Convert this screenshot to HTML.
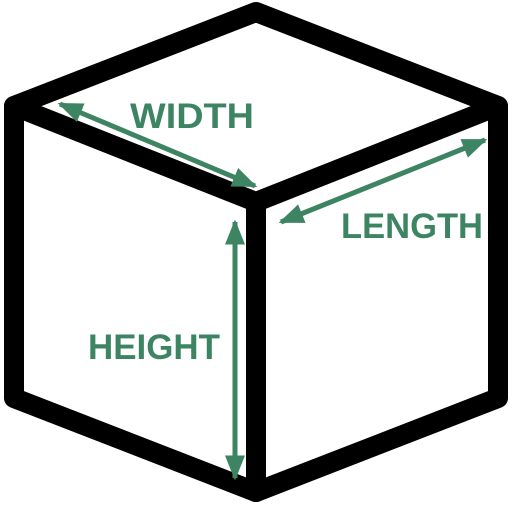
<!DOCTYPE html>
<html>
<head>
<meta charset="utf-8">
<style>
html,body{margin:0;padding:0;background:#fff;}
svg{display:block;}
text{font-family:"Liberation Sans",sans-serif;font-weight:bold;fill:#3d8462;}
</style>
</head>
<body>
<svg width="512" height="512" viewBox="0 0 512 512">
  <defs>
    <marker id="ah" markerWidth="5" markerHeight="5" refX="4.5" refY="2.5" orient="auto-start-reverse" markerUnits="strokeWidth">
      <path d="M0,0.5 L5,2.5 L0,4.5 Z" fill="#3d8462"/>
    </marker>
  </defs>
  <g fill="none" stroke="#000" stroke-width="20" stroke-linejoin="round" stroke-linecap="round">
    <path d="M256,12 L498,106 L498,398 L256,492 L14,398 L14,106 Z"/>
    <path d="M14,106 L256,202 L498,106 M256,202 L256,492"/>
  </g>
  <g stroke="#3d8462" stroke-width="5" fill="none">
    <line x1="60" y1="104" x2="255" y2="186" marker-start="url(#ah)" marker-end="url(#ah)"/>
    <line x1="281" y1="222" x2="485" y2="140" marker-start="url(#ah)" marker-end="url(#ah)"/>
    <line x1="235" y1="222" x2="235" y2="478" marker-start="url(#ah)" marker-end="url(#ah)"/>
  </g>
  <text x="130" y="128" font-size="35" textLength="124" lengthAdjust="spacingAndGlyphs">WIDTH</text>
  <text x="341" y="238" font-size="35" textLength="142" lengthAdjust="spacingAndGlyphs">LENGTH</text>
  <text x="88" y="359" font-size="35" textLength="132" lengthAdjust="spacingAndGlyphs">HEIGHT</text>
</svg>
</body>
</html>
